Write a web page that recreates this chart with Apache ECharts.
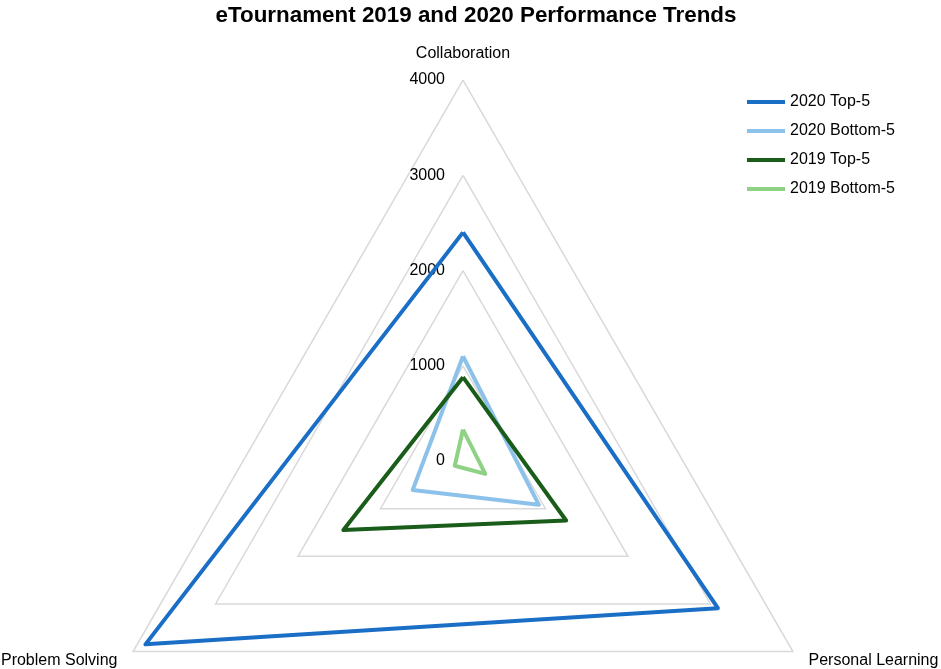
<!DOCTYPE html>
<html>
<head>
<meta charset="utf-8">
<script src="https://cdn.jsdelivr.net/npm/echarts@6/dist/echarts.min.js"></script>
<style>
  html, body { margin: 0; padding: 0; background: #fff; }
  #chart { width: 941px; height: 669px; }
</style>
</head>
<body>
<div id="chart"></div>
<script>
// radar axes in echarts order (counter-clockwise from the top)
const indicators = ['Collaboration', 'Problem Solving', 'Personal Learning'];
const axisMax = 4000;

const seriesNames = ['2020 Top-5', '2020 Bottom-5', '2019 Top-5', '2019 Bottom-5'];
// values follow the indicator order above
const top2020 = [2400, 3850, 3090];
const bottom2020 = [1100, 610, 920];
const top2019 = [880, 1450, 1250];
const bottom2019 = [330, 100, 270];
const seriesColors = ['#1a6ec6', '#8cc2ea', '#1a5c1a', '#8fd286'];

const values = [top2020, bottom2020, top2019, bottom2019];

const chart = echarts.init(document.getElementById('chart'));

chart.setOption({
    animation: false,
    textStyle: { fontFamily: 'Liberation Sans, Arial, sans-serif' },
    color: seriesColors,
    title: {
        text: 'eTournament 2019 and 2020 Performance Trends',
        left: 471,
        top: 0,
        textAlign: 'center',
        textStyle: { fontSize: 22.4, fontWeight: 'bold', color: '#000' }
    },
    legend: {
        orient: 'vertical',
        left: 742,
        top: 89,
        itemGap: 13,
        itemWidth: 38,
        itemHeight: 4,
        icon: 'rect',
        textStyle: { fontSize: 16, color: '#000' },
        data: seriesNames
    },
    radar: {
        center: [463, 461],
        radius: 381,
        startAngle: 90,
        splitNumber: 4,
        shape: 'polygon',
        nameGap: 18,
        axisName: { color: '#000', fontSize: 16 },
        axisLine: { show: false },
        axisTick: { show: false },
        splitArea: { show: false },
        splitLine: { lineStyle: { color: '#d9d9d9', width: 1.5 } },
        axisLabel: { show: false, color: '#000', fontSize: 16, margin: 18, formatter: v => String(v) },
        indicator: indicators.map((name, i) => ({
            name: name,
            min: 0,
            max: axisMax,
            axisLabel: { show: i === 0 }
        }))
    },
    series: [{
        type: 'radar',
        symbol: 'none',
        lineStyle: { width: 4 },
        data: seriesNames.map((name, i) => ({
            name: name,
            value: values[i],
            lineStyle: { color: seriesColors[i], width: 4 },
            itemStyle: { color: seriesColors[i] }
        }))
    }]
});
</script>
</body>
</html>
